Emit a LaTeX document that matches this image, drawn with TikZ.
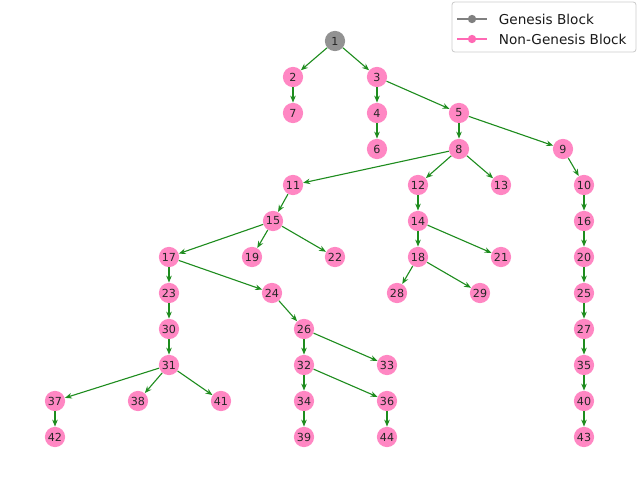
\documentclass[tikz,border=0pt]{standalone}
\usepackage{fontspec}
\setmainfont{DejaVu Sans}
\usetikzlibrary{arrows.meta}
\definecolor{blockpink}{HTML}{FF87C3}
\definecolor{genesisgray}{HTML}{929292}
\definecolor{edgegreen}{HTML}{1E8C1E}
\definecolor{legendpink}{HTML}{FF69B4}
\definecolor{legendgray}{HTML}{808080}
\tikzset{
  block/.style={circle, fill=blockpink, minimum size=14.6pt, inner sep=0pt, font=\fontsize{8}{9}\selectfont, text=black!85},
  genesis/.style={block, fill=genesisgray},
  link/.style={draw=edgegreen, line width=0.8pt, -{Stealth[length=5pt,width=4pt]}},
  legendline/.style={line width=1.2pt},
  legenddot/.style={circle, inner sep=0pt, minimum size=6pt},
  legendtext/.style={anchor=west, font=\fontsize{9.8}{12}\selectfont, text=black!90}
}
\begin{document}
\begin{tikzpicture}[x=0.72pt, y=-0.72pt]
\useasboundingbox (0,0) rectangle (640,480);
% genesis block
\node[genesis] (n1) at (335,41) {1};
% remaining blocks
\foreach \id/\px/\py in {
  2/293/77, 3/377/77,
  7/293/113, 4/377/113, 5/459/113,
  6/377/149, 8/459/149, 9/563/149,
  11/293/185, 12/418/185, 13/501/185, 10/584/185,
  15/273/221, 14/418/221, 16/584/221,
  17/169/257, 19/252/257, 22/335/257, 18/418/257, 21/501/257, 20/584/257,
  23/169/293, 24/272/293, 28/397/293, 29/480/293, 25/584/293,
  30/169/329, 26/304/329, 27/584/329,
  31/169/365, 32/304/365, 33/387/365, 35/584/365,
  37/55/401, 38/138/401, 41/221/401, 34/304/401, 36/387/401, 40/584/401,
  42/55/437, 39/304/437, 44/387/437, 43/584/437}
  \node[block] (n\id) at (\px,\py) {\id};
% parent -> child links
\foreach \a/\b in {1/2, 1/3, 2/7, 3/4, 3/5, 4/6, 5/8, 5/9, 8/11, 8/12, 8/13,
  9/10, 11/15, 12/14, 10/16, 15/17, 15/19, 15/22, 14/18, 14/21, 16/20,
  17/23, 17/24, 18/28, 18/29, 20/25, 23/30, 24/26, 25/27, 30/31, 26/32,
  26/33, 27/35, 31/37, 31/38, 31/41, 32/34, 32/36, 35/40, 37/42, 34/39,
  36/44, 40/43}
  \draw[link] (n\a) -- (n\b);
% legend
\draw[draw=black!20, fill=white, rounded corners=2pt, line width=0.6pt] (452,2) rectangle (636,52);
\coordinate (g1) at (457,19); \coordinate (g2) at (487,19);
\coordinate (p1) at (457,39); \coordinate (p2) at (487,39);
\draw[legendline, legendgray] (g1) -- (g2);
\node[legenddot, fill=legendgray] (gd) at (472,19) {};
\node[legendtext] (gt) at (494,19) {Genesis Block};
\draw[legendline, legendpink] (p1) -- (p2);
\node[legenddot, fill=legendpink] (pd) at (472,39) {};
\node[legendtext] (pt) at (494,39) {Non-Genesis Block};
\end{tikzpicture}
\end{document}
